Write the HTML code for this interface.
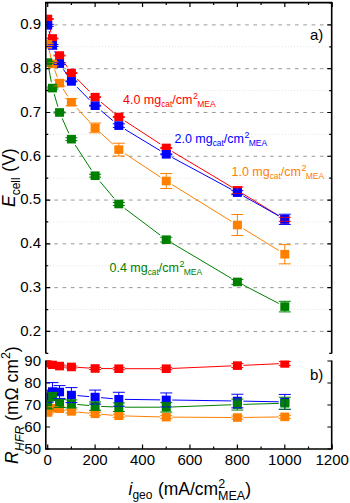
<!DOCTYPE html><html><head><meta charset="utf-8"><style>html,body{margin:0;padding:0;background:#fff;}svg{display:block;}text{font-family:"Liberation Sans",sans-serif;}</style></head><body>
<svg width="350" height="503" viewBox="0 0 350 503">
<defs><clipPath id="ct"><rect x="46.4" y="2.6" width="284.7" height="351.0"/></clipPath><clipPath id="cb"><rect x="46.4" y="360.5" width="284.7" height="88.5"/></clipPath></defs>
<line x1="45.8" y1="331.43" x2="331.7" y2="331.43" stroke="#999" stroke-width="1" stroke-dasharray="3.7 4.6" stroke-dashoffset="-0.15"/>
<line x1="45.8" y1="287.64" x2="331.7" y2="287.64" stroke="#999" stroke-width="1" stroke-dasharray="3.7 4.6" stroke-dashoffset="-0.15"/>
<line x1="45.8" y1="243.85" x2="331.7" y2="243.85" stroke="#999" stroke-width="1" stroke-dasharray="3.7 4.6" stroke-dashoffset="-0.15"/>
<line x1="45.8" y1="200.06" x2="331.7" y2="200.06" stroke="#999" stroke-width="1" stroke-dasharray="3.7 4.6" stroke-dashoffset="-0.15"/>
<line x1="45.8" y1="156.27" x2="331.7" y2="156.27" stroke="#999" stroke-width="1" stroke-dasharray="3.7 4.6" stroke-dashoffset="-0.15"/>
<line x1="45.8" y1="112.48" x2="331.7" y2="112.48" stroke="#999" stroke-width="1" stroke-dasharray="3.7 4.6" stroke-dashoffset="-0.15"/>
<line x1="45.8" y1="68.69" x2="331.7" y2="68.69" stroke="#999" stroke-width="1" stroke-dasharray="3.7 4.6" stroke-dashoffset="-0.15"/>
<line x1="45.8" y1="24.9" x2="331.7" y2="24.9" stroke="#999" stroke-width="1" stroke-dasharray="3.7 4.6" stroke-dashoffset="-0.15"/>
<line x1="47" y1="309.53" x2="331.7" y2="309.53" stroke="#e2e2e2" stroke-width="1" stroke-dasharray="1 2.05"/>
<line x1="47" y1="265.75" x2="331.7" y2="265.75" stroke="#e2e2e2" stroke-width="1" stroke-dasharray="1 2.05"/>
<line x1="47" y1="221.96" x2="331.7" y2="221.96" stroke="#e2e2e2" stroke-width="1" stroke-dasharray="1 2.05"/>
<line x1="47" y1="178.16" x2="331.7" y2="178.16" stroke="#e2e2e2" stroke-width="1" stroke-dasharray="1 2.05"/>
<line x1="47" y1="134.38" x2="331.7" y2="134.38" stroke="#e2e2e2" stroke-width="1" stroke-dasharray="1 2.05"/>
<line x1="47" y1="90.59" x2="331.7" y2="90.59" stroke="#e2e2e2" stroke-width="1" stroke-dasharray="1 2.05"/>
<line x1="47" y1="46.79" x2="331.7" y2="46.79" stroke="#e2e2e2" stroke-width="1" stroke-dasharray="1 2.05"/>
<path d="M45.8 353.32h2.5M331.7 353.32h-2.5M45.8 331.43h4.5M331.7 331.43h-4.5M45.8 309.53h2.5M331.7 309.53h-2.5M45.8 287.64h4.5M331.7 287.64h-4.5M45.8 265.75h2.5M331.7 265.75h-2.5M45.8 243.85h4.5M331.7 243.85h-4.5M45.8 221.96h2.5M331.7 221.96h-2.5M45.8 200.06h4.5M331.7 200.06h-4.5M45.8 178.16h2.5M331.7 178.16h-2.5M45.8 156.27h4.5M331.7 156.27h-4.5M45.8 134.38h2.5M331.7 134.38h-2.5M45.8 112.48h4.5M331.7 112.48h-4.5M45.8 90.59h2.5M331.7 90.59h-2.5M45.8 68.69h4.5M331.7 68.69h-4.5M45.8 46.8h2.5M331.7 46.8h-2.5M45.8 24.9h4.5M331.7 24.9h-4.5M45.8 3.01h2.5M331.7 3.01h-2.5M47.7 2.6v4.5M47.7 449v-4.5M71.41 2.6v2.5M71.41 449v-2.5M95.12 2.6v4.5M95.12 449v-4.5M118.83 2.6v2.5M118.83 449v-2.5M142.54 2.6v4.5M142.54 449v-4.5M166.25 2.6v2.5M166.25 449v-2.5M189.96 2.6v4.5M189.96 449v-4.5M213.67 2.6v2.5M213.67 449v-2.5M237.38 2.6v4.5M237.38 449v-4.5M261.09 2.6v2.5M261.09 449v-2.5M284.8 2.6v4.5M284.8 449v-4.5M308.51 2.6v2.5M308.51 449v-2.5M332.22 2.6v4.5M332.22 449v-4.5M45.8 449h4.3M331.7 449h-4.3M45.8 427h4.3M331.7 427h-4.3M45.8 405h4.3M331.7 405h-4.3M45.8 383h4.3M331.7 383h-4.3M45.8 361h4.3M331.7 361h-4.3" stroke="#000" stroke-width="1.2" fill="none"/>
<g clip-path="url(#ct)">
<path d="M49.11 24.79L51.03 32.67M54.86 44.27L57.14 49.75M63.48 61.35L67.48 67.27M77.12 78.87L89.41 91.35M101.12 102.17L112.83 111.97M124.83 120.91L160.25 144.03M172.25 151.53L231.38 186.84M243.38 194.08L278.8 215.67" fill="none" stroke="#ff0000" stroke-width="1"/>
<path d="M49.07 31.14L51.08 39.68M54.72 51.28L57.28 57.81M63.42 69.41L67.54 75.59M77.07 87.19L89.46 99.89M101.12 110.73L112.83 120.57M124.83 129.25L160.25 150.67M172.25 157.53L231.38 189.38M243.38 196L278.8 215.95" fill="none" stroke="#0000ff" stroke-width="1"/>
<path d="M49.11 50.1L51.04 58.07M54.58 69.67L57.41 77.34M63.16 88.94L67.8 96.39M76.76 107.99L89.77 122.09M101.12 133.39L112.83 144.12M124.83 153.59L160.25 177.04M172.25 184.72L231.38 221.31M243.38 228.72L278.8 250.53" fill="none" stroke="#ff8000" stroke-width="1"/>
<path d="M48.78 68.36L51.36 82.29M54.13 93.89L57.86 106.68M62.13 118.28L68.84 133.39M75.18 144.99L91.35 169.91M99.98 181.51L113.97 198.2M124.83 208.52L160.25 235.17M172.25 243.25L231.38 278.38M243.38 285.07L278.8 303.48" fill="none" stroke="#008000" stroke-width="1"/>
<rect x="43.2" y="14.69" width="9" height="8.6" fill="#ff0000"/>
<rect x="47.94" y="34.17" width="9" height="8.6" fill="#ff0000"/>
<rect x="55.06" y="51.25" width="9" height="8.6" fill="#ff0000"/>
<rect x="66.91" y="68.77" width="9" height="8.6" fill="#ff0000"/>
<rect x="90.62" y="92.85" width="9" height="8.6" fill="#ff0000"/>
<rect x="114.33" y="112.69" width="9" height="8.6" fill="#ff0000"/>
<rect x="161.75" y="143.65" width="9" height="8.6" fill="#ff0000"/>
<rect x="232.88" y="186.13" width="9" height="8.6" fill="#ff0000"/>
<rect x="280.3" y="215.03" width="9" height="8.6" fill="#ff0000"/>
<rect x="43.2" y="21.04" width="9" height="8.6" fill="#0000ff"/>
<rect x="47.94" y="41.18" width="9" height="8.6" fill="#0000ff"/>
<rect x="55.06" y="59.31" width="9" height="8.6" fill="#0000ff"/>
<rect x="66.91" y="77.09" width="9" height="8.6" fill="#0000ff"/>
<rect x="90.62" y="101.39" width="9" height="8.6" fill="#0000ff"/>
<rect x="114.33" y="121.32" width="9" height="8.6" fill="#0000ff"/>
<rect x="161.75" y="150" width="9" height="8.6" fill="#0000ff"/>
<rect x="232.88" y="188.32" width="9" height="8.6" fill="#0000ff"/>
<rect x="280.3" y="215.03" width="9" height="8.6" fill="#0000ff"/>
<rect x="43.2" y="40" width="9" height="8.6" fill="#ff8000"/>
<rect x="47.94" y="59.57" width="9" height="8.6" fill="#ff8000"/>
<rect x="55.06" y="78.84" width="9" height="8.6" fill="#ff8000"/>
<rect x="66.91" y="97.89" width="9" height="8.6" fill="#ff8000"/>
<rect x="90.62" y="123.59" width="9" height="8.6" fill="#ff8000"/>
<rect x="114.33" y="145.31" width="9" height="8.6" fill="#ff8000"/>
<rect x="161.75" y="176.71" width="9" height="8.6" fill="#ff8000"/>
<rect x="232.88" y="220.72" width="9" height="8.6" fill="#ff8000"/>
<rect x="280.3" y="249.93" width="9" height="8.6" fill="#ff8000"/>
<rect x="43.2" y="58.26" width="9" height="8.6" fill="#008000"/>
<rect x="47.94" y="83.79" width="9" height="8.6" fill="#008000"/>
<rect x="55.06" y="108.18" width="9" height="8.6" fill="#008000"/>
<rect x="66.91" y="134.89" width="9" height="8.6" fill="#008000"/>
<rect x="90.62" y="171.41" width="9" height="8.6" fill="#008000"/>
<rect x="114.33" y="199.7" width="9" height="8.6" fill="#008000"/>
<rect x="161.75" y="235.39" width="9" height="8.6" fill="#008000"/>
<rect x="232.88" y="277.65" width="9" height="8.6" fill="#008000"/>
<rect x="280.3" y="302.3" width="9" height="8.6" fill="#008000"/>
<path d="M47.7 18.59V19.39M41.7 18.59H53.7M41.7 19.39H53.7M52.44 38.07V38.87M46.44 38.07H58.44M46.44 38.87H58.44M59.56 55.15V55.95M53.56 55.15H65.56M53.56 55.95H65.56M71.41 72.67V73.47M65.41 72.67H77.41M65.41 73.47H77.41M95.12 96.75V97.55M89.12 96.75H101.12M89.12 97.55H101.12M118.83 116.59V117.39M112.83 116.59H124.83M112.83 117.39H124.83M166.25 147.55V148.35M160.25 147.55H172.25M160.25 148.35H172.25M237.38 187.03V193.83M231.38 187.03H243.38M231.38 193.83H243.38M284.8 217.33V221.33M278.8 217.33H290.8M278.8 221.33H290.8" stroke="#ff0000" stroke-width="1" fill="none"/>
<path d="M47.7 24.34V26.34M41.7 24.34H53.7M41.7 26.34H53.7M52.44 44.48V46.48M46.44 44.48H58.44M46.44 46.48H58.44M59.56 62.61V64.61M53.56 62.61H65.56M53.56 64.61H65.56M71.41 80.99V81.79M65.41 80.99H77.41M65.41 81.79H77.41M95.12 105.29V106.09M89.12 105.29H101.12M89.12 106.09H101.12M118.83 123.82V127.42M112.83 123.82H124.83M112.83 127.42H124.83M166.25 153.9V154.7M160.25 153.9H172.25M160.25 154.7H172.25M237.38 190.62V194.62M231.38 190.62H243.38M231.38 194.62H243.38M284.8 214.23V224.43M278.8 214.23H290.8M278.8 224.43H290.8" stroke="#0000ff" stroke-width="1" fill="none"/>
<path d="M47.7 43.3V45.3M41.7 43.3H53.7M41.7 45.3H53.7M52.44 61.87V65.87M46.44 61.87H58.44M46.44 65.87H58.44M59.56 80.14V86.14M53.56 80.14H65.56M53.56 86.14H65.56M71.41 98.69V105.69M65.41 98.69H77.41M65.41 105.69H77.41M95.12 122.99V132.79M89.12 122.99H101.12M89.12 132.79H101.12M118.83 143.21V156.01M112.83 143.21H124.83M112.83 156.01H124.83M166.25 173.51V188.51M160.25 173.51H172.25M160.25 188.51H172.25M237.38 214.52V235.52M231.38 214.52H243.38M231.38 235.52H243.38M284.8 244.63V263.83M278.8 244.63H290.8M278.8 263.83H290.8" stroke="#ff8000" stroke-width="1" fill="none"/>
<path d="M47.7 61.56V63.56M41.7 61.56H53.7M41.7 63.56H53.7M52.44 87.09V89.09M46.44 87.09H58.44M46.44 89.09H58.44M59.56 111.98V112.98M53.56 111.98H65.56M53.56 112.98H65.56M71.41 137.79V140.59M65.41 137.79H77.41M65.41 140.59H77.41M95.12 174.31V177.11M89.12 174.31H101.12M89.12 177.11H101.12M118.83 202.5V205.5M112.83 202.5H124.83M112.83 205.5H124.83M166.25 237.29V242.09M160.25 237.29H172.25M160.25 242.09H172.25M237.38 279.55V284.35M231.38 279.55H243.38M231.38 284.35H243.38M284.8 301.3V311.9M278.8 301.3H290.8M278.8 311.9H290.8" stroke="#008000" stroke-width="1" fill="none"/>
</g>
<g clip-path="url(#cb)">
<path d="M77.41 367.33L89.12 368.09M101.12 368.54L112.83 368.64M124.83 368.7L160.25 368.7M172.25 368.44L231.38 365.88M243.38 365.34L278.8 363.7" fill="none" stroke="#ff0000" stroke-width="1"/>
<path d="M77.41 395.6L89.12 396.58M101.12 397.64L112.83 398.72M124.83 399.36L160.25 399.86M172.25 400.03L231.38 400.95M243.38 401.15L278.8 401.81" fill="none" stroke="#0000ff" stroke-width="1"/>
<path d="M77.41 411.99L89.12 413.19M101.12 414.3L112.83 415.28M124.83 415.95L160.25 416.93M172.25 417.14L231.38 417.5M243.38 417.46L278.8 416.96" fill="none" stroke="#ff8000" stroke-width="1"/>
<path d="M77.41 404.46L89.12 405.54M101.12 406.38L112.83 406.92M124.83 407.2L160.25 407.2M172.25 406.98L231.38 404.78M243.38 404.39L278.8 403.41" fill="none" stroke="#008000" stroke-width="1"/>
<rect x="43.2" y="358.9" width="9" height="8.6" fill="#ff0000"/>
<rect x="47.94" y="360.44" width="9" height="8.6" fill="#ff0000"/>
<rect x="55.06" y="361.76" width="9" height="8.6" fill="#ff0000"/>
<rect x="66.91" y="362.64" width="9" height="8.6" fill="#ff0000"/>
<rect x="90.62" y="364.18" width="9" height="8.6" fill="#ff0000"/>
<rect x="114.33" y="364.4" width="9" height="8.6" fill="#ff0000"/>
<rect x="161.75" y="364.4" width="9" height="8.6" fill="#ff0000"/>
<rect x="232.88" y="361.32" width="9" height="8.6" fill="#ff0000"/>
<rect x="280.3" y="359.12" width="9" height="8.6" fill="#ff0000"/>
<rect x="43.2" y="391.9" width="9" height="8.6" fill="#0000ff"/>
<rect x="47.94" y="387.28" width="9" height="8.6" fill="#0000ff"/>
<rect x="55.06" y="387.72" width="9" height="8.6" fill="#0000ff"/>
<rect x="66.91" y="390.8" width="9" height="8.6" fill="#0000ff"/>
<rect x="90.62" y="392.78" width="9" height="8.6" fill="#0000ff"/>
<rect x="114.33" y="394.98" width="9" height="8.6" fill="#0000ff"/>
<rect x="161.75" y="395.64" width="9" height="8.6" fill="#0000ff"/>
<rect x="232.88" y="396.74" width="9" height="8.6" fill="#0000ff"/>
<rect x="280.3" y="397.62" width="9" height="8.6" fill="#0000ff"/>
<rect x="43.2" y="408.18" width="9" height="8.6" fill="#ff8000"/>
<rect x="47.94" y="404" width="9" height="8.6" fill="#ff8000"/>
<rect x="55.06" y="404.44" width="9" height="8.6" fill="#ff8000"/>
<rect x="66.91" y="407.08" width="9" height="8.6" fill="#ff8000"/>
<rect x="90.62" y="409.5" width="9" height="8.6" fill="#ff8000"/>
<rect x="114.33" y="411.48" width="9" height="8.6" fill="#ff8000"/>
<rect x="161.75" y="412.8" width="9" height="8.6" fill="#ff8000"/>
<rect x="232.88" y="413.24" width="9" height="8.6" fill="#ff8000"/>
<rect x="280.3" y="412.58" width="9" height="8.6" fill="#ff8000"/>
<rect x="43.2" y="400.7" width="9" height="8.6" fill="#008000"/>
<rect x="47.94" y="392.12" width="9" height="8.6" fill="#008000"/>
<rect x="55.06" y="399.16" width="9" height="8.6" fill="#008000"/>
<rect x="66.91" y="399.6" width="9" height="8.6" fill="#008000"/>
<rect x="90.62" y="401.8" width="9" height="8.6" fill="#008000"/>
<rect x="114.33" y="402.9" width="9" height="8.6" fill="#008000"/>
<rect x="161.75" y="402.9" width="9" height="8.6" fill="#008000"/>
<rect x="232.88" y="400.26" width="9" height="8.6" fill="#008000"/>
<rect x="280.3" y="398.94" width="9" height="8.6" fill="#008000"/>
<path d="M47.7 362.2V364.2M41.7 362.2H53.7M41.7 364.2H53.7M52.44 363.74V365.74M46.44 363.74H58.44M46.44 365.74H58.44M59.56 365.06V367.06M53.56 365.06H65.56M53.56 367.06H65.56M71.41 365.94V367.94M65.41 365.94H77.41M65.41 367.94H77.41M95.12 367.48V369.48M89.12 367.48H101.12M89.12 369.48H101.12M118.83 367.7V369.7M112.83 367.7H124.83M112.83 369.7H124.83M166.25 367.7V369.7M160.25 367.7H172.25M160.25 369.7H172.25M237.38 363.62V367.62M231.38 363.62H243.38M231.38 367.62H243.38M284.8 361.42V365.42M278.8 361.42H290.8M278.8 365.42H290.8" stroke="#ff0000" stroke-width="1" fill="none"/>
<path d="M47.7 390.2V402.2M41.7 390.2H53.7M41.7 402.2H53.7M52.44 382.58V400.58M46.44 382.58H58.44M46.44 400.58H58.44M59.56 385.62V398.42M53.56 385.62H65.56M53.56 398.42H65.56M71.41 387.6V402.6M65.41 387.6H77.41M65.41 402.6H77.41M95.12 390.08V404.08M89.12 390.08H101.12M89.12 404.08H101.12M118.83 392.28V406.28M112.83 392.28H124.83M112.83 406.28H124.83M166.25 392.94V406.94M160.25 392.94H172.25M160.25 406.94H172.25M237.38 394.24V407.84M231.38 394.24H243.38M231.38 407.84H243.38M284.8 394.42V409.42M278.8 394.42H290.8M278.8 409.42H290.8" stroke="#0000ff" stroke-width="1" fill="none"/>
<path d="M47.7 410.98V413.98M41.7 410.98H53.7M41.7 413.98H53.7M52.44 406.8V409.8M46.44 406.8H58.44M46.44 409.8H58.44M59.56 407.24V410.24M53.56 407.24H65.56M53.56 410.24H65.56M71.41 409.88V412.88M65.41 409.88H77.41M65.41 412.88H77.41M95.12 412.3V415.3M89.12 412.3H101.12M89.12 415.3H101.12M118.83 414.28V417.28M112.83 414.28H124.83M112.83 417.28H124.83M166.25 415.6V418.6M160.25 415.6H172.25M160.25 418.6H172.25M237.38 416.04V419.04M231.38 416.04H243.38M231.38 419.04H243.38M284.8 415.38V418.38M278.8 415.38H290.8M278.8 418.38H290.8" stroke="#ff8000" stroke-width="1" fill="none"/>
<path d="M47.7 401V409M41.7 401H53.7M41.7 409H53.7M52.44 392.42V400.42M46.44 392.42H58.44M46.44 400.42H58.44M59.56 399.46V407.46M53.56 399.46H65.56M53.56 407.46H65.56M71.41 399.9V407.9M65.41 399.9H77.41M65.41 407.9H77.41M95.12 401.9V410.3M89.12 401.9H101.12M89.12 410.3H101.12M118.83 402.9V411.5M112.83 402.9H124.83M112.83 411.5H124.83M166.25 402.4V412M160.25 402.4H172.25M160.25 412H172.25M237.38 399.06V410.06M231.38 399.06H243.38M231.38 410.06H243.38M284.8 397.24V409.24M278.8 397.24H290.8M278.8 409.24H290.8" stroke="#008000" stroke-width="1" fill="none"/>
</g>
<path d="M45.8 353.6V2.6H331.7V353.6" fill="none" stroke="#000" stroke-width="1.6"/>
<path d="M45.8 360.5V449H331.7V360.5" fill="none" stroke="#000" stroke-width="1.6"/>
<text x="41" y="335.83" font-size="15" text-anchor="end">0.2</text>
<text x="41" y="292.04" font-size="15" text-anchor="end">0.3</text>
<text x="41" y="248.25" font-size="15" text-anchor="end">0.4</text>
<text x="41" y="204.46" font-size="15" text-anchor="end">0.5</text>
<text x="41" y="160.67" font-size="15" text-anchor="end">0.6</text>
<text x="41" y="116.88" font-size="15" text-anchor="end">0.7</text>
<text x="41" y="73.09" font-size="15" text-anchor="end">0.8</text>
<text x="41" y="29.3" font-size="15" text-anchor="end">0.9</text>
<text x="41" y="454" font-size="15" text-anchor="end">50</text>
<text x="41" y="432" font-size="15" text-anchor="end">60</text>
<text x="41" y="410" font-size="15" text-anchor="end">70</text>
<text x="41" y="388" font-size="15" text-anchor="end">80</text>
<text x="41" y="366" font-size="15" text-anchor="end">90</text>
<text x="47.7" y="465.4" font-size="15" text-anchor="middle">0</text>
<text x="95.12" y="465.4" font-size="15" text-anchor="middle">200</text>
<text x="142.54" y="465.4" font-size="15" text-anchor="middle">400</text>
<text x="189.96" y="465.4" font-size="15" text-anchor="middle">600</text>
<text x="237.38" y="465.4" font-size="15" text-anchor="middle">800</text>
<text x="284.8" y="465.4" font-size="15" text-anchor="middle">1000</text>
<text x="332.22" y="465.4" font-size="15" text-anchor="middle">1200</text>
<text x="310" y="40.4" font-size="15">a)</text>
<text x="310" y="379.5" font-size="15">b)</text>
<text x="123" y="104.1" font-size="12.5" fill="#ff0000">4.0 mg<tspan font-size="8.3" dy="3">cat</tspan><tspan dy="-3">/cm</tspan><tspan font-size="9" dy="-5" dx="0.5">2</tspan><tspan font-size="8.5" dy="8" dx="-0.8">MEA</tspan></text>
<text x="174.5" y="143.2" font-size="12.5" fill="#0000ff">2.0 mg<tspan font-size="8.3" dy="3">cat</tspan><tspan dy="-3">/cm</tspan><tspan font-size="9" dy="-5" dx="0.5">2</tspan><tspan font-size="8.5" dy="8" dx="-0.8">MEA</tspan></text>
<text x="231.5" y="176" font-size="12.5" fill="#ff8000">1.0 mg<tspan font-size="8.3" dy="3">cat</tspan><tspan dy="-3">/cm</tspan><tspan font-size="9" dy="-5" dx="0.5">2</tspan><tspan font-size="8.5" dy="8" dx="-0.8">MEA</tspan></text>
<text x="109.5" y="271.7" font-size="12.5" fill="#008000">0.4 mg<tspan font-size="8.3" dy="3">cat</tspan><tspan dy="-3">/cm</tspan><tspan font-size="9" dy="-5" dx="0.5">2</tspan><tspan font-size="8.5" dy="8" dx="-0.8">MEA</tspan></text>
<text transform="translate(15.1,207) rotate(-90)" font-size="17.5"><tspan font-style="italic">E</tspan><tspan font-size="12" dy="4.6">cell</tspan><tspan dy="-4.6" dx="0.8"> (V)</tspan></text>
<text transform="translate(18.4,464) rotate(-90)" font-size="17.5"><tspan font-style="italic">R</tspan><tspan font-size="12.5" dy="5.5" font-style="italic">HFR</tspan><tspan dy="-5.5"> (mΩ cm</tspan><tspan font-size="12.5" dy="-8">2</tspan><tspan dy="8">)</tspan></text>
<text x="128.5" y="494.5" font-size="17.5"><tspan font-style="italic">i</tspan><tspan font-size="12" dy="4.4">geo</tspan><tspan dy="-4.4" dx="0.6"> (mA/cm</tspan><tspan font-size="12.5" dy="-7">2</tspan><tspan font-size="12.5" dy="12" dx="-7">MEA</tspan><tspan dy="-5">)</tspan></text>
</svg></body></html>
